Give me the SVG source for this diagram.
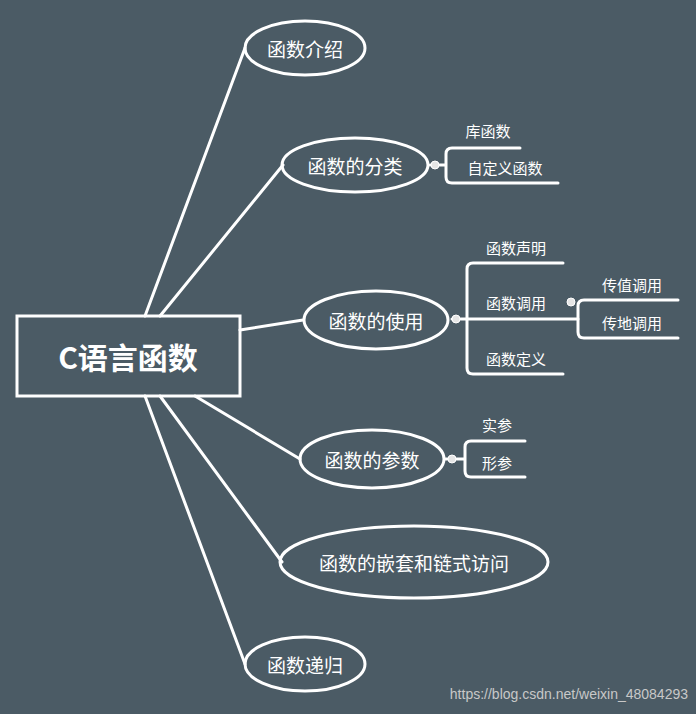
<svg xmlns="http://www.w3.org/2000/svg" width="696" height="714" viewBox="0 0 696 714">
<style>
.ln{fill:none;stroke:#fff;stroke-width:3;stroke-linecap:round;stroke-linejoin:round}
.el{fill:none;stroke:#fff;stroke-width:3}
.t{fill:#fff;font-family:"Noto Sans CJK SC","Liberation Sans",sans-serif;text-anchor:middle;dominant-baseline:central}
.m{font-size:19px}.s{font-size:15px}
.dot{fill:#e6e6e6;stroke:#fff;stroke-width:1}
</style>
<rect width="696" height="714" fill="#4b5b65"/>
<g id="connectors">
<path class="ln" d="M145 316L245 48M160 316L283 165M240 330L303 320M195 396L300 459M160 396L282 562M145 396L245 664"/>
<path class="ln" d="M430 165H446M452 148Q446 148 446 154V177Q446 183 452 183M452 148H520M452 183H558"/>
<path class="ln" d="M452 319H467M473 263Q467 263 467 269V368Q467 374 473 374M473 263H563M467 319H578M473 374H563"/>
<path class="ln" d="M584 300Q578 300 578 306V332Q578 338 584 338M584 300H678M584 338H678M571 302V302"/>
<path class="ln" d="M445 459H465M471 441Q465 441 465 447V471Q465 477 471 477M471 441H525M471 477H525"/>
<circle class="dot" cx="435" cy="165" r="4"/>
<circle class="dot" cx="456" cy="319" r="4"/>
<circle class="dot" cx="571" cy="302" r="4"/>
<circle class="dot" cx="452" cy="459" r="4"/>
</g>
<g id="root"><rect x="17" y="316" width="223" height="80" fill="none" stroke="#fff" stroke-width="3"/><text class="t" x="128" y="356" font-size="30" font-weight="bold">C语言函数</text></g>
<g id="n1"><ellipse class="el" cx="305" cy="48" rx="60" ry="27"/><text class="t m" x="305" y="48">函数介绍</text></g>
<g id="n2"><ellipse class="el" cx="355" cy="165" rx="73" ry="27"/><text class="t m" x="355" y="165">函数的分类</text></g>
<g id="n3"><ellipse class="el" cx="376" cy="320" rx="72" ry="29"/><text class="t m" x="376" y="320">函数的使用</text></g>
<g id="n4"><ellipse class="el" cx="372" cy="459" rx="72" ry="29"/><text class="t m" x="372" y="459">函数的参数</text></g>
<g id="n5"><ellipse class="el" cx="414" cy="562" rx="134" ry="36"/><text class="t m" x="414" y="562">函数的嵌套和链式访问</text></g>
<g id="n6"><ellipse class="el" cx="305" cy="664" rx="60" ry="27"/><text class="t m" x="305" y="664">函数递归</text></g>
<g id="leaves">
<text class="t s" x="488" y="130">库函数</text>
<text class="t s" x="505" y="167">自定义函数</text>
<text class="t s" x="516" y="247">函数声明</text>
<text class="t s" x="516" y="302">函数调用</text>
<text class="t s" x="516" y="358">函数定义</text>
<text class="t s" x="632" y="284">传值调用</text>
<text class="t s" x="632" y="322">传地调用</text>
<text class="t s" x="497" y="424">实参</text>
<text class="t s" x="497" y="462">形参</text>
</g>
<text x="688" y="694" font-family="Liberation Sans,sans-serif" font-size="14" fill="#c8c8c8" text-anchor="end" dominant-baseline="central">https://blog.csdn.net/weixin_48084293</text>
</svg>
